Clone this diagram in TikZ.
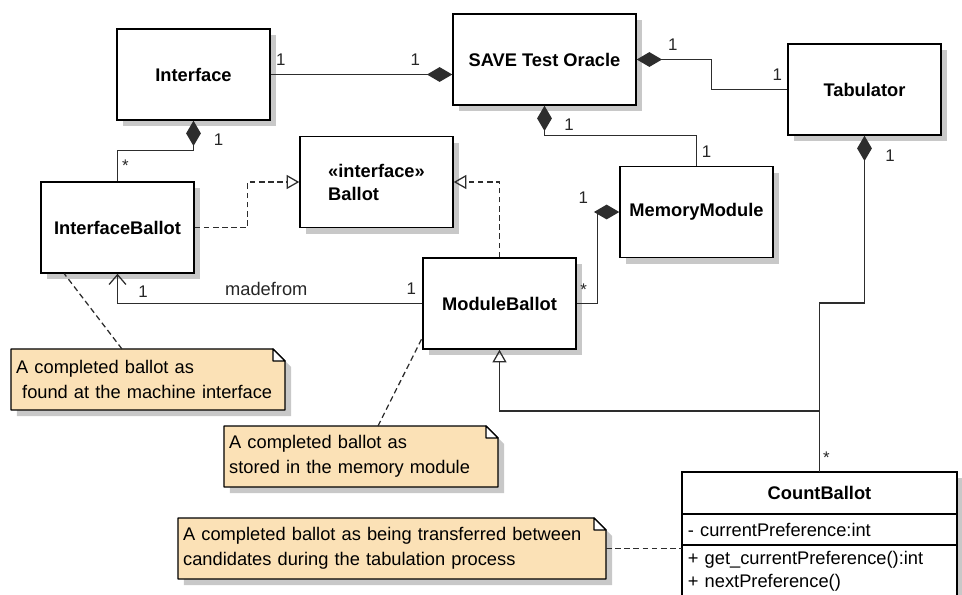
\documentclass[tikz,border=0pt]{standalone}
\usepackage{fontspec}
\setmainfont{Liberation Sans}
\usetikzlibrary{arrows.meta,positioning,shadows}
\pgfdeclarelayer{background}
\pgfsetlayers{background,main}
\definecolor{notefill}{RGB}{251,225,182}
\definecolor{linegray}{RGB}{45,45,45}
\definecolor{shadowgray}{RGB}{200,200,200}

% note outline with folded corner, drawn behind the text node #1
\newcommand\notebox[1]{%
  \fill[shadowgray] ([shift={(6,6)}]#1.south west) -- ([shift={(6,6)}]#1.north west)
    -- ([shift={(-6,6)}]#1.north east) -- ([shift={(6,18)}]#1.north east)
    -- ([shift={(6,6)}]#1.south east) -- cycle;
  \draw[fill=notefill, line width=0.9pt, line join=round] (#1.south west) -- (#1.north west)
    -- ([shift={(-12,0)}]#1.north east) -- ([shift={(0,12)}]#1.north east)
    -- (#1.south east) -- cycle;
  \draw[fill=white, line width=0.9pt, line join=round] ([shift={(-12,0)}]#1.north east)
    -- ([shift={(-12,12)}]#1.north east) -- ([shift={(0,12)}]#1.north east) -- cycle;
}

\begin{document}
\begin{tikzpicture}[x=0.025cm, y=-0.025cm,
  shade/.style={drop shadow={shadow xshift=4.3pt, shadow yshift=-4.3pt, fill=shadowgray, opacity=1}},
  cls/.style={draw=black, fill=white, line width=1pt, shade,
    minimum width=3.825cm, minimum height=2.275cm,
    font=\fontsize{13}{16.4}\selectfont\bfseries},
  member/.style={draw=black, fill=white, line width=1pt, shade, outer sep=0pt,
    text width=6.575cm, inner xsep=0.15cm, align=left, minimum height=0.775cm,
    font=\fontsize{13}{16.4}\selectfont},
  note/.style={text width=6.59cm, minimum height=1.525cm, inner xsep=0.13cm,
    outer sep=0pt, align=left, font=\fontsize{13}{17.5}\selectfont},
  mult/.style={inner sep=1pt, font=\fontsize{12}{14}\selectfont, text=black!85},
  comp/.style={draw=linegray, line width=0.9pt, -{Diamond[length=18pt,width=10.5pt]}},
  realize/.style={draw=linegray, line width=0.9pt, dash pattern=on 4pt off 2.5pt,
    -{Triangle[open,length=9pt,width=10pt]}},
  gen/.style={draw=linegray, line width=0.9pt, -{Triangle[open,length=9pt,width=10pt]}},
  assoc/.style={draw=linegray, line width=0.9pt, -{Straight Barb[length=7pt,width=12pt]}},
  link/.style={draw=linegray, line width=0.9pt, dash pattern=on 4pt off 2.5pt}]

\useasboundingbox (0,0) rectangle (962,594);

% classes
\node[cls] (iface) at (193.5,74.5) {Interface};
\node[cls, minimum width=4.575cm] (oracle) at (544.5,59.5) {SAVE Test Oracle};
\node[cls] (tab) at (864.5,89.5) {Tabulator};
\node[cls, align=left] (ballot) at (376.5,182) {«interface»\\Ballot};
\node[cls] (ibal) at (117.5,227.5) {InterfaceBallot};
\node[cls] (mem) at (696.5,212) {MemoryModule};
\node[cls] (mbal) at (499.5,303.5) {ModuleBallot};

% CountBallot with its compartments
\node[cls, minimum width=6.875cm, minimum height=1.05cm, anchor=north, outer sep=0pt] (cb) at (819.5,472) {CountBallot};
\node[member, below=0pt of cb] (cbattr) {- currentPreference:int};
\node[member, below=0pt of cbattr, minimum height=1.3cm] (cbops) {+ get{\char"5F}currentPreference():int\\+ nextPreference()};

% notes
\node[note] (note1) at (148,379.5) {A completed ballot as\\\hspace*{0.15cm}found at the machine interface};
\node[note] (note2) at (361,456.5) {A completed ballot as\\stored in the memory module};
\node[note, text width=10.44cm] (note3) at (392,548.5) {A completed ballot as being transferred between\\candidates during the tabulation process};
\begin{pgfonlayer}{background}
  \notebox{note1}
  \notebox{note2}
  \notebox{note3}
\end{pgfonlayer}

% compositions
\draw[comp] (iface.east) -- (iface.east -| oracle.west);
\draw[comp] (tab.west) -- ++(-76,0) |- (oracle.east);
\draw[comp] (mem.north) -- ++(0,-30) -| (oracle.south);
\draw[comp] (ibal.north) -- ++(0,-31) -| (iface.south);
\draw[comp] (mbal.east) -- ++(21,0) |- (mem.west);
\draw[comp] (cb.north) -- ++(0,-169) -| (tab.south);

% realizations, generalization, association
\draw[realize] (ibal.east) -- ++(53,0) |- (ballot.west);
\draw[realize] (mbal.north) |- (ballot.east);
\draw[gen] (cb.north) -- ++(0,-61) -| (mbal.south);
\draw[assoc] (mbal.west) -| (ibal.south);

% note anchors
\draw[link] ([shift={(111,0)}]note1.north west) -- ([shift={(24,0)}]ibal.south west);
\draw[link] ([shift={(154,0)}]note2.north west) -- ([shift={(0,-12)}]mbal.south west);
\draw[link] (note3.east) -- (note3.east -| cbops.west);

% multiplicities
\node[mult] at ([shift={(10,-14.5)}]iface.east) {1};
\node[mult] at ([shift={(-37,-15)}]iface.east -| oracle.west) {1};
\node[mult] at ([shift={(36,-14.5)}]oracle.east) {1};
\node[mult] at ([shift={(-10,-15)}]tab.west) {1};
\node[mult] at ([shift={(24.5,19)}]oracle.south) {1};
\node[mult] at ([shift={(10,-14)}]mem.north) {1};
\node[mult] at ([shift={(25,19)}]iface.south) {1};
\node[mult] at ([shift={(8,-16)}]ibal.north) {*};
\node[mult] at ([shift={(25.5,18)}]ibal.south) {1};
\node[mult] at ([shift={(-11,-14.5)}]mbal.west) {1};
\node[mult, font=\fontsize{13}{15}\selectfont] at ([shift={(-156,-15)}]mbal.west) {madefrom};
\node[mult] at ([shift={(7,-14)}]mbal.east) {*};
\node[mult] at ([shift={(-36,-14)}]mem.west) {1};
\node[mult] at ([shift={(25.5,20)}]tab.south) {1};
\node[mult] at ([shift={(7,-14)}]cb.north) {*};

\end{tikzpicture}
\end{document}
